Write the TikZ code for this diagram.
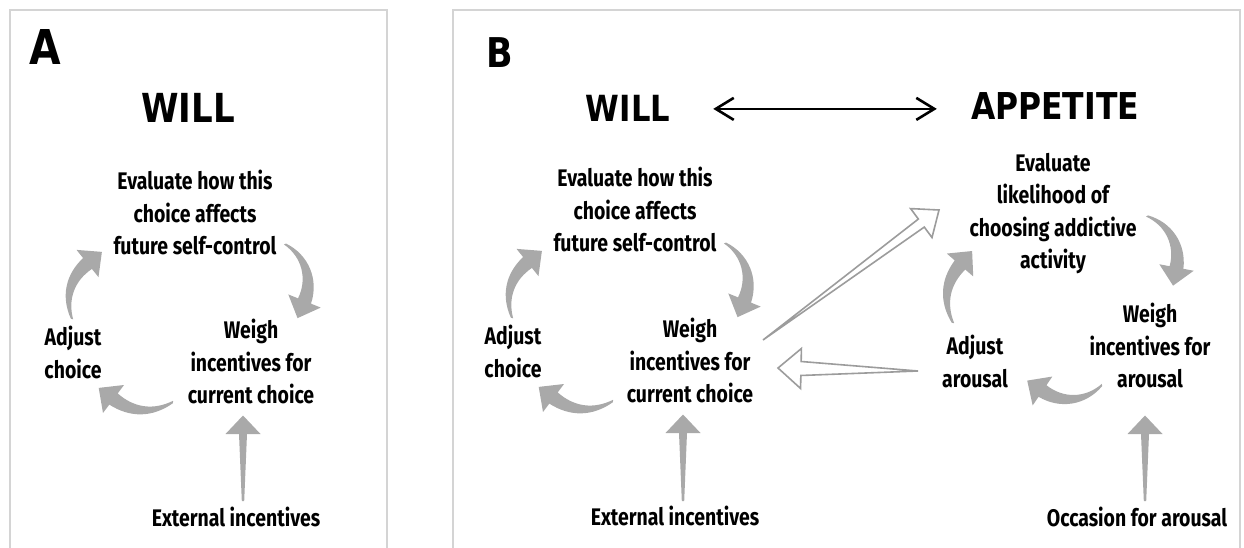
\documentclass[tikz,border=0pt]{standalone}
\usepackage{fontspec}
\setmainfont{Fira Sans}[FakeStretch=0.81]
\newfontfamily\headfont{DejaVu Sans}[FakeStretch=0.85]
\usetikzlibrary{calc, arrows.meta}

\definecolor{cyclegray}{HTML}{A9A9A9}
\definecolor{hollowgray}{HTML}{9C9C9C}
\definecolor{framegray}{HTML}{D4D4D4}

% tapered grey arrow: [shaft half width]{tail}{end of shaft}{bend}
\newcommand{\cyclearrow}[4][7pt]{%
  \fill[cyclegray] ($(#2)!1.2pt!-90:(#3)$) to[bend left=#4] ($(#3)!#1!90-#4:(#2)$)
    -- ($(#3)!17.5pt!90-#4:(#2)$) -- ($(#3)!18.5pt!180-#4:(#2)$)
    -- ($(#3)!17.5pt!-90-#4:(#2)$) -- ($(#3)!#1!-90-#4:(#2)$)
    to[bend right=#4] ($(#2)!1.2pt!90:(#3)$) -- cycle;}

% open arrow growing out of a point: {tail}{tip}{head length}{shaft half width}{head half width}
\newcommand{\hollowarrow}[5]{%
  \filldraw[hollowline] (#1) -- ($(#2)!#3!(#1)!#4!90:(#2)$) -- ($(#2)!#3!(#1)!#5!90:(#2)$)
    -- (#2) -- ($(#2)!#3!(#1)!#5!-90:(#2)$) -- ($(#2)!#3!(#1)!#4!-90:(#2)$) -- cycle;}

\begin{document}
\begin{tikzpicture}[x=1pt, y=-1pt,
    phase/.style={font=\fontsize{24}{32.5}\selectfont\bfseries, align=center, inner sep=0pt, anchor=north},
    source/.style={font=\fontsize{24}{32.5}\selectfont\bfseries, inner sep=0pt, anchor=base},
    heading/.style={font=\headfont\bfseries\fontsize{#1}{#1}\selectfont, inner sep=0pt, anchor=base},
    frame/.style={draw=framegray, line width=1.5pt},
    hollowline/.style={draw=hollowgray, line width=1.6pt, fill=white, line join=miter},
    duplex/.style={line width=2.6pt, {Straight Barb[length=18pt,width=22pt]}-{Straight Barb[length=18pt,width=22pt]}}]
  \useasboundingbox (0,0) rectangle (1244,548);

  % panel frames
  \draw[frame] (10,548) -- (10,10) -- (387,10) -- (387,548);
  \draw[frame] (453,548) -- (453,10) -- (1240,10) -- (1240,548);

  % panel A
  \node[heading=48] (tagA) at (45.5,65) {A};
  \node[heading=40] (willA) at (188,123) {WILL};
  \node[phase] (evalA) at (195,170) {Evaluate how this\\choice affects\\future self-control};
  \node[phase] (adjustA) at (73,326) {Adjust\\choice};
  \node[phase] (weighA) at (251,319) {Weigh\\incentives for\\current choice};
  \node[source] (extA) at (236,526) {External incentives};

  \coordinate (a1t) at (72,319);    \coordinate (a1h) at (87.5,263.5);
  \coordinate (a2t) at (285,244);   \coordinate (a2h) at (304.5,301);
  \coordinate (a3t) at (173,402);   \coordinate (a3h) at (113.5,399);
  \coordinate (a4t) at (243,501);   \coordinate (a4h) at (243,434);
  \cyclearrow{a1t}{a1h}{35.5}
  \cyclearrow{a2t}{a2h}{41}
  \cyclearrow{a3t}{a3h}{34}
  \cyclearrow[4pt]{a4t}{a4h}{0}

  % panel B
  \node[heading=41] (tagB) at (499.5,68) {B};
  \node[heading=36] (willB) at (628,122) {WILL};
  \node[heading=37] (appetite) at (1055,120) {APPETITE};
  \draw[duplex, shorten <=43pt, shorten >=34pt] (willB.east) -- (willB.east -| appetite.west);

  \node[phase] (evalB) at (635,167) {Evaluate how this\\choice affects\\future self-control};
  \node[phase] (adjustB) at (513,325) {Adjust\\choice};
  \node[phase] (weighB) at (690,318) {Weigh\\incentives for\\current choice};
  \node[source] (extB) at (675,525) {External incentives};

  \coordinate (b1t) at (512,318);   \coordinate (b1h) at (527.5,262.5);
  \coordinate (b2t) at (725,243);   \coordinate (b2h) at (744.5,300);
  \coordinate (b3t) at (613,401);   \coordinate (b3h) at (553.5,398);
  \coordinate (b4t) at (683,501);   \coordinate (b4h) at (683,433);
  \cyclearrow{b1t}{b1h}{35.5}
  \cyclearrow{b2t}{b2h}{41}
  \cyclearrow{b3t}{b3h}{34}
  \cyclearrow[4pt]{b4t}{b4h}{0}

  \node[phase] (evalR) at (1053,153) {Evaluate\\likelihood of\\choosing addictive\\activity};
  \node[phase] (adjustR) at (975,335) {Adjust\\arousal};
  \node[phase] (weighR) at (1150,303) {Weigh\\incentives for\\arousal};
  \node[source] (occasion) at (1137,526) {Occasion for arousal};

  \coordinate (r1t) at (953,323);   \coordinate (r1h) at (960,265);
  \coordinate (r2t) at (1147,216);  \coordinate (r2h) at (1176.5,267.5);
  \coordinate (r3t) at (1102,385);  \coordinate (r3h) at (1042.5,391);
  \coordinate (r4t) at (1145,501);  \coordinate (r4h) at (1145,434);
  \cyclearrow{r1t}{r1h}{34}
  \cyclearrow{r2t}{r2h}{40.5}
  \cyclearrow{r3t}{r3h}{40}
  \cyclearrow[4pt]{r4t}{r4h}{0}

  % links between will and appetite
  \coordinate (h1t) at (763,340);   \coordinate (h1h) at (939,210);
  \coordinate (h2t) at (918,371);   \coordinate (h2h) at (778,368);
  \hollowarrow{h1t}{h1h}{22pt}{5pt}{18pt}
  \hollowarrow{h2t}{h2h}{23pt}{7pt}{20pt}
\end{tikzpicture}
\end{document}
